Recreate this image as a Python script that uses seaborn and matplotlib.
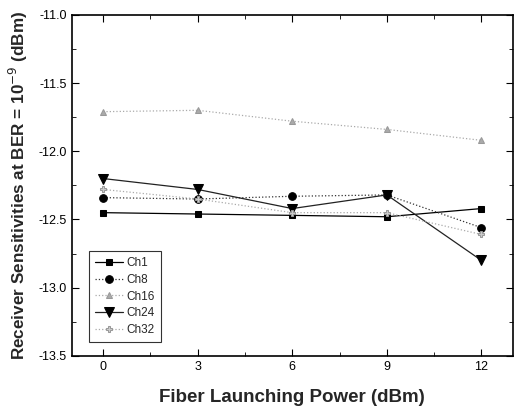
import matplotlib
matplotlib.use("Agg")
import matplotlib.pyplot as plt
from matplotlib.ticker import MultipleLocator
import numpy as np
import pandas as pd
import seaborn as sns

sns.set_style("ticks")
plt.rcParams["font.family"] = ["Liberation Sans", "DejaVu Sans"]

# Fiber launching power (dBm)
power = [0, 3, 6, 9, 12]

# Receiver sensitivity at BER = 1e-9 (dBm) per channel
ch1 = [-12.45, -12.46, -12.47, -12.48, -12.42]
ch8 = [-12.34, -12.35, -12.33, -12.32, -12.56]
ch16 = [-11.71, -11.70, -11.78, -11.84, -11.92]
ch24 = [-12.20, -12.28, -12.42, -12.32, -12.80]
ch32 = [-12.28, -12.35, -12.45, -12.45, -12.61]

channels = ["Ch1", "Ch8", "Ch16", "Ch24", "Ch32"]
values = [ch1, ch8, ch16, ch24, ch32]

df = pd.DataFrame({
    "power": power * len(channels),
    "sens": np.concatenate(values),
    "channel": np.repeat(channels, len(power)),
})

styles = {
    "Ch1":  dict(color="black",   ls="-",  marker="s", mfc="black",   mec="black",   ms=5),
    "Ch8":  dict(color="#333333", ls=":",  marker="o", mfc="black",   mec="black",   ms=5.5),
    "Ch16": dict(color="#aaaaaa", ls=":",  marker="^", mfc="#aaaaaa", mec="#999999", ms=4.5),
    "Ch24": dict(color="#222222", ls="-",  marker="v", mfc="black",   mec="black",   ms=6.5),
    "Ch32": dict(color="#aaaaaa", ls=":",  marker="P", mfc="#cccccc", mec="#999999", ms=5),
}

fig = plt.figure(figsize=(5.15, 4.11), dpi=100)
ax = fig.add_axes([0.139, 0.134, 0.857, 0.830])

for name in channels:
    st = styles[name]
    sub = df[df["channel"] == name]
    sns.lineplot(data=sub, x="power", y="sens", ax=ax, color=st["color"],
                 linestyle=st["ls"], linewidth=0.9, marker=st["marker"],
                 markersize=st["ms"], markerfacecolor=st["mfc"],
                 markeredgecolor=st["mec"], label=name)

ax.set_xlim(-1, 13)
ax.set_ylim(-13.5, -11.0)
ax.xaxis.set_major_locator(MultipleLocator(3))
ax.xaxis.set_minor_locator(MultipleLocator(1.5))
ax.yaxis.set_major_locator(MultipleLocator(0.5))
ax.yaxis.set_minor_locator(MultipleLocator(0.25))
ax.set_yticklabels([f"{v:.1f}" for v in ax.get_yticks()])

ax.tick_params(which="both", direction="in", top=True, right=True,
               labelsize=9, colors="black")
ax.tick_params(which="major", length=5)
ax.tick_params(which="minor", length=3)
for s in ax.spines.values():
    s.set_linewidth(1.2)
    s.set_color("black")

ax.set_xlabel("Fiber Launching Power (dBm)", fontsize=13.5, fontweight="bold", labelpad=12)
ax.set_ylabel("Receiver Sensitivities at BER = 10$^{-9}$ (dBm)", fontsize=12.3,
              fontweight="bold", labelpad=6)

leg = ax.legend(loc="lower left", bbox_to_anchor=(0.039, 0.041), borderaxespad=0,
                fontsize=8.5, frameon=True, fancybox=False, edgecolor="black",
                handlelength=2.4, labelspacing=0.4, borderpad=0.5, handletextpad=0.3)
leg.get_frame().set_linewidth(0.8)

fig.savefig("out.png", dpi=100)
